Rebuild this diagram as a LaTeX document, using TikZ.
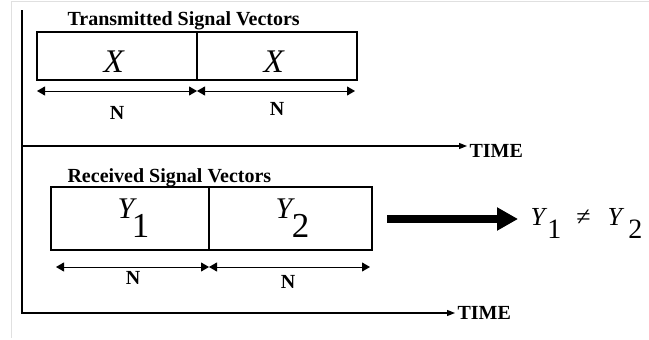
\documentclass[tikz,border=0pt]{standalone}
\usepackage{fontspec}
\setmainfont{Liberation Serif}
\usetikzlibrary{arrows.meta}

\begin{document}
\begin{tikzpicture}[x=1pt, y=-1pt, line width=1.1pt,
  cell/.style={draw, line width=1.2pt, inner sep=0pt},
  dim/.style={line width=1pt, {Triangle[length=8pt,width=9pt]}-{Triangle[length=8pt,width=9pt]}},
  axis/.style={line width=1.3pt, -{Triangle[length=8pt,width=6pt]}},
  bold/.style={font=\bfseries\fontsize{20}{20}\selectfont, inner sep=0pt},
  sym/.style={inner sep=0pt, anchor=base west}]
  \useasboundingbox (0,0) rectangle (649,340);
  % 边框
  \draw[black!12, line width=1pt] (11.5,338) -- (11.5,1.5) -- (649,1.5);
  % 坐标轴 O=(22,10)
  \coordinate (O) at (22,10);
  \coordinate (T1) at (22,146);
  \coordinate (T2) at (22,313);
  \coordinate (E1) at (467,146);
  \coordinate (E2) at (455,313);
  \draw[line width=1.3pt] (O)--(T1);
  \draw[axis] (O)--(T2)--(E2);
  \draw[axis] (T1)--(E1);
  \node[bold, anchor=base west] (time1) at (469,157) {TIME};
  \node[bold, anchor=base west] (time2) at (457,319) {TIME};
  % 发送信号 X X
  \node[bold, anchor=base west] (ttl1) at (67,25) {Transmitted Signal Vectors};
  \node[cell, minimum width=160pt, minimum height=48pt] (x1) at (117,56) {};
  \node[cell, minimum width=160pt, minimum height=48pt] (x2) at (277,56) {};
  \node[sym, font=\itshape\fontsize{33}{33}\selectfont] (lx1) at (103,72) {X};
  \node[sym, font=\itshape\fontsize{33}{33}\selectfont] (lx2) at (263,72) {X};
  % 长度 N: dA=(37,91) dB=(197,91) dC=(355,91)
  \coordinate (dA) at (37,91);
  \coordinate (dB) at (197,91);
  \coordinate (dC) at (355,91);
  \draw[dim] (dA)--(dB);
  \draw[dim] (dB)--(dC);
  \node[bold, anchor=base] (n1) at (117,119) {N};
  \node[bold, anchor=base] (n2) at (277,115) {N};
  % 接收信号 Y1 Y2
  \node[bold, anchor=base west] (ttl2) at (67,182) {Received Signal Vectors};
  \node[cell, minimum width=158pt, minimum height=63pt] (y1) at (130,218.5) {};
  \node[cell, minimum width=163pt, minimum height=63pt] (y2) at (290.5,218.5) {};
  \node[sym, font=\fontsize{30}{30}\selectfont] (ly1) at (117,218)
    {\textit{Y}\kern-5pt\raisebox{-19pt}{\fontsize{35}{35}\selectfont 1}};
  \node[sym, font=\fontsize{30}{30}\selectfont] (ly2) at (275,218)
    {\textit{Y}\kern-3pt\raisebox{-19pt}{\fontsize{35}{35}\selectfont 2}};
  % 长度 N: eA=(56,267) eB=(209,267) eC=(370,267)
  \coordinate (eA) at (56,267);
  \coordinate (eB) at (209,267);
  \coordinate (eC) at (370,267);
  \draw[dim] (eA)--(eB);
  \draw[dim] (eB)--(eC);
  \node[bold, anchor=base] (n3) at (133,284) {N};
  \node[bold, anchor=base] (n4) at (288,288) {N};
  % 粗箭头 与 Y1 ≠ Y2
  \coordinate (bs) at (387,219);
  \coordinate (be) at (518,219);
  \draw[line width=8pt, -{Triangle[length=21pt,width=22pt]}] (bs)--(be);
  \node[sym, font=\fontsize{26}{26}\selectfont] (neq) at (530,225)
    {\textit{Y}\raisebox{-13pt}{\fontsize{28}{28}\selectfont 1}\hspace{15pt}≠\hspace{17pt}\textit{Y}\kern4pt\raisebox{-13pt}{\fontsize{28}{28}\selectfont 2}};
\end{tikzpicture}
\end{document}
